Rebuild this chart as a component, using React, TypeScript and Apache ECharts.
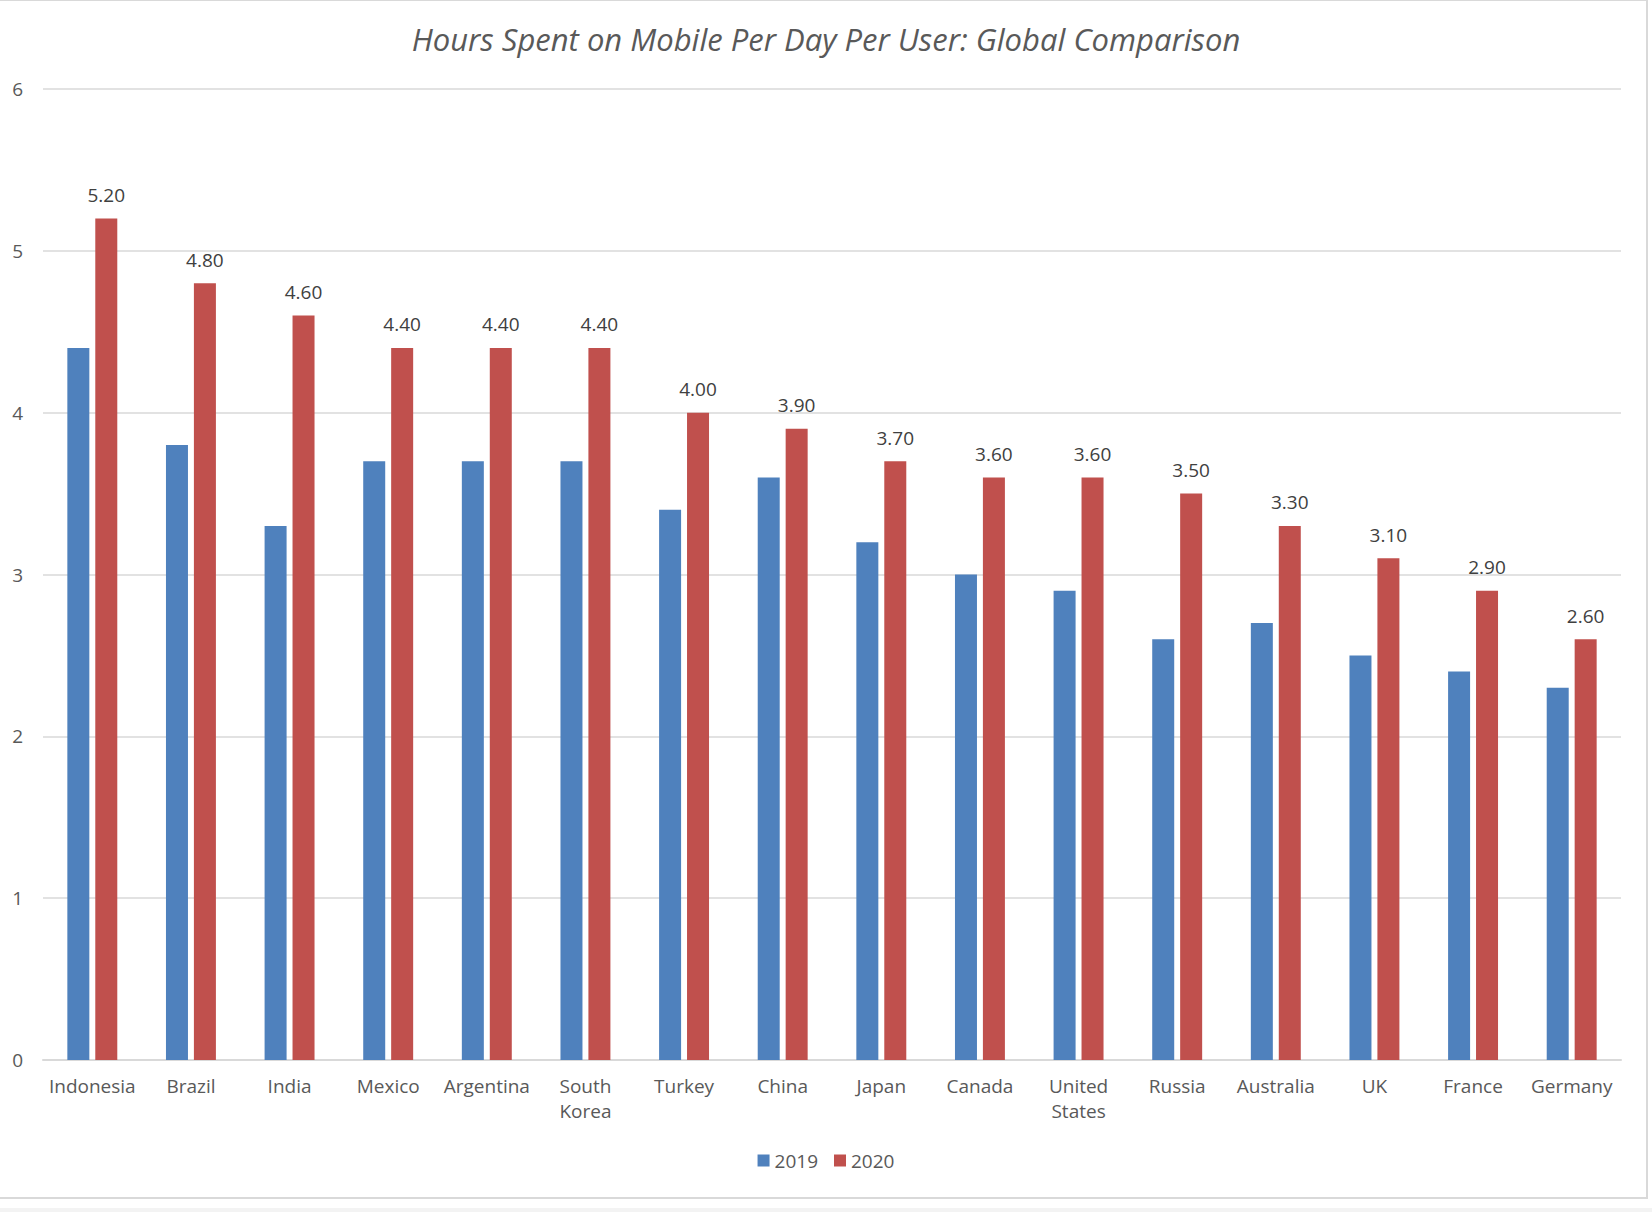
import React, { useEffect, useRef } from "react";
import * as echarts from "echarts";

const categories = [
  "Indonesia", "Brazil", "India", "Mexico", "Argentina", "South\nKorea", "Turkey", "China",
  "Japan", "Canada", "United\nStates", "Russia", "Australia", "UK", "France", "Germany",
];
const values2019 = [4.4, 3.8, 3.3, 3.7, 3.7, 3.7, 3.4, 3.6, 3.2, 3.0, 2.9, 2.6, 2.7, 2.5, 2.4, 2.3];
const values2020 = [5.2, 4.8, 4.6, 4.4, 4.4, 4.4, 4.0, 3.9, 3.7, 3.6, 3.6, 3.5, 3.3, 3.1, 2.9, 2.6];
const seriesNames = ["2019", "2020"];
const titleText = "Hours Spent on Mobile Per Day Per User: Global Comparison";

const FONT = "'Open Sans', 'Noto Sans', sans-serif";
const TEXT = "#595959";
const GRID = "#d9d9d9";

export default function App() {
  const ref = useRef<HTMLDivElement>(null);
  useEffect(() => {
    document.body.style.margin = "0";
    const chart = echarts.init(ref.current!, null, { renderer: "svg" });
    chart.setOption({
      animation: false,
      backgroundColor: "#ffffff",
      textStyle: { fontFamily: FONT },
      title: {
        text: titleText,
        left: "center",
        top: 18,
        textStyle: { fontFamily: FONT, fontSize: 31, fontStyle: "italic", fontWeight: "normal", color: TEXT },
      },
      legend: {
        data: seriesNames,
        left: "center",
        top: 1146,
        itemWidth: 12,
        itemHeight: 12,
        itemGap: 16,
        icon: "rect",
        textStyle: { fontFamily: FONT, fontSize: 19, color: TEXT },
      },
      grid: { left: 43, right: 31, top: 89, bottom: 152, containLabel: false },
      xAxis: {
        type: "category",
        data: categories,
        axisLine: { lineStyle: { color: GRID, width: 2 } },
        axisTick: { show: false },
        axisLabel: { interval: 0, fontFamily: FONT, fontSize: 19, color: TEXT, margin: 13, lineHeight: 25 },
      },
      yAxis: {
        type: "value",
        min: 0,
        max: 6,
        interval: 1,
        axisLine: { show: false },
        axisTick: { show: false },
        splitLine: { lineStyle: { color: GRID, width: 1.5 } },
        axisLabel: { fontFamily: FONT, fontSize: 19, color: TEXT, margin: 20 },
      },
      series: [
        {
          name: seriesNames[0],
          type: "bar",
          data: values2019,
          barWidth: 22,
          barGap: "27%",
          itemStyle: { color: "#4F81BD" },
        },
        {
          name: seriesNames[1],
          type: "bar",
          data: values2020,
          barWidth: 22,
          barGap: "27%",
          itemStyle: { color: "#C0504D" },
          label: {
            show: true,
            position: "top",
            distance: 14,
            fontFamily: FONT,
            fontSize: 19,
            color: "#404040",
            formatter: (p: any) => Number(p.value).toFixed(2),
          },
        },
      ],
      graphic: [
        { type: "line", shape: { x1: 0, y1: 0.5, x2: 1648, y2: 0.5 }, style: { stroke: GRID, lineWidth: 1 }, silent: true },
        { type: "line", shape: { x1: 1647, y1: 0, x2: 1647, y2: 1199 }, style: { stroke: GRID, lineWidth: 2 }, silent: true },
        { type: "line", shape: { x1: 0, y1: 1198, x2: 1648, y2: 1198 }, style: { stroke: GRID, lineWidth: 2 }, silent: true },
        { type: "rect", shape: { x: 0, y: 1208, width: 1652, height: 4 }, style: { fill: "#f3f3f3" }, silent: true },
      ],
    });
    return () => chart.dispose();
  }, []);
  return <div ref={ref} style={{ position: "absolute", left: 0, top: 0, width: 1652, height: 1212 }} />;
}
